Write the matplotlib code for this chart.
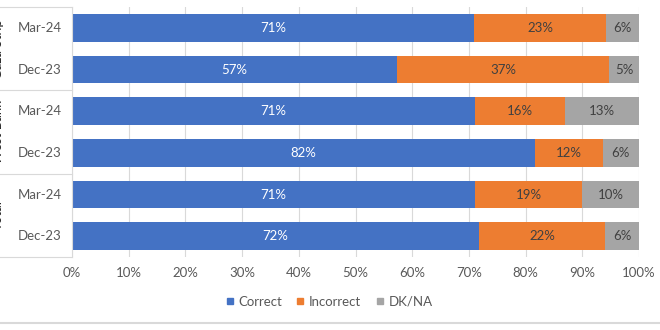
import matplotlib.pyplot as plt
from matplotlib.lines import Line2D
import matplotlib.transforms as mtransforms

plt.rcParams['font.family'] = ['Lato', 'DejaVu Sans']

# data, top to bottom
groups = ["Gaza Strip", "West Bank", "Total"]
periods = ["Mar-24", "Dec-23", "Mar-24", "Dec-23", "Mar-24", "Dec-23"]
correct = [70.9, 57.4, 71.0, 81.6, 71.0, 71.8]
incorrect = [23.3, 37.3, 16.0, 12.0, 19.0, 22.2]
dkna = [5.8, 5.3, 13.0, 6.4, 10.0, 6.0]
series_names = ["Correct", "Incorrect", "DK/NA"]
colors = ["#4472C4", "#ED7D31", "#A5A5A5"]
label_colors = ["white", "#404040", "#404040"]

fig = plt.figure(figsize=(6.6, 3.3), dpi=100)
ax = fig.add_axes([72 / 660, 1 - 257 / 330, 567 / 660, 250 / 330])

ypos = list(range(len(periods)))
left = [0.0] * len(periods)
for vals, col, lcol in zip([correct, incorrect, dkna], colors, label_colors):
    ax.barh(ypos, vals, left=left, height=0.66, color=col, zorder=2)
    for y, l, v in zip(ypos, left, vals):
        ax.text(l + v / 2, y, f"{round(v)}%", ha="center", va="center",
                color=lcol, fontsize=9.5, zorder=3)
    left = [a + b for a, b in zip(left, vals)]

ax.set_xlim(0, 100)
ax.set_ylim(len(periods) - 0.5, -0.5)
ax.set_xticks(range(0, 101, 10))
ax.set_xticklabels([f"{t}%" for t in range(0, 101, 10)])
ax.tick_params(axis="x", length=0, pad=7, labelsize=9.5, labelcolor="#595959")
ax.set_yticks([])
ax.grid(axis="x", color="#D9D9D9", linewidth=0.8, zorder=0)
for s in ax.spines.values():
    s.set_visible(False)

# category box on the left
trans = mtransforms.blended_transform_factory(ax.transAxes, ax.transData)
x0 = -72 / 567
box_col = "#D9D9D9"
ax.add_line(Line2D([0, 0], [-0.5, len(periods) - 0.5], transform=trans,
                   color=box_col, lw=0.8, clip_on=False))
for yb in [-0.5, 1.5, 3.5, 5.5]:
    ax.add_line(Line2D([x0, 0], [yb, yb], transform=trans,
                       color=box_col, lw=0.8, clip_on=False))
for y, p in zip(ypos, periods):
    ax.text(-32 / 567, y, p, transform=trans, ha="center", va="center",
            fontsize=9.5, color="#595959")
# group names sit partly off the left edge, as in the source
for i, g in enumerate(groups):
    ax.text(-74 / 567, 2 * i + 0.5, g, transform=trans, rotation=90,
            ha="center", va="center", fontsize=9.5, color="#262626")

handles = [Line2D([], [], marker="s", linestyle="none", markersize=5,
                  color=c) for c in colors]
fig.legend(handles, series_names, loc="center", bbox_to_anchor=(329 / 660, 1 - 302 / 330),
           ncol=3, frameon=False, fontsize=9.5, handlelength=0.6,
           handletextpad=0.35, columnspacing=1.1, labelcolor="#595959")

# bottom border
fig.add_artist(Line2D([0, 1], [1 - 323 / 330] * 2, transform=fig.transFigure,
                      color="#D9D9D9", lw=1.5))

fig.savefig("out.png", dpi=100)
